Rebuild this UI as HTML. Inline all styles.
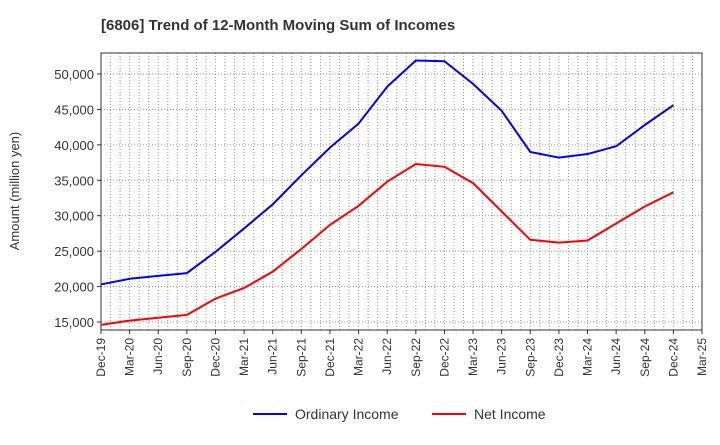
<!DOCTYPE html>
<html><head><meta charset="utf-8"><style>body{margin:0;background:#fff;font-family:"Liberation Sans",sans-serif}</style></head>
<body>
<svg id="c" width="720" height="440" xmlns="http://www.w3.org/2000/svg">
<text x="101" y="30" font-size="15" font-weight="bold" fill="#333">[6806]  Trend of 12-Month Moving Sum of Incomes</text>
<text transform="translate(19,191) rotate(-90)" text-anchor="middle" font-size="13" fill="#333">Amount (million yen)</text>
<g id="grid"></g><g id="axes"></g><g id="series"></g>
<g>
<line x1="253" y1="414" x2="287" y2="414" stroke="#0000ff" stroke-width="2"/><text x="295" y="419" font-size="14" fill="#333">Ordinary Income</text>
<line x1="432" y1="414" x2="466" y2="414" stroke="#ff0000" stroke-width="2"/><text x="474" y="419" font-size="14" fill="#333">Net Income</text>
</g>
</svg>
<script>
const categories=["Dec-19","Mar-20","Jun-20","Sep-20","Dec-20","Mar-21","Jun-21","Sep-21","Dec-21","Mar-22","Jun-22","Sep-22","Dec-22","Mar-23","Jun-23","Sep-23","Dec-23","Mar-24","Jun-24","Sep-24","Dec-24","Mar-25"];
const ordinaryIncome=[20300,21100,21500,21900,24900,28200,31600,35700,39600,43000,48200,51900,51800,48600,44800,39000,38200,38700,39800,42800,45600];
const netIncome=[14600,15200,15600,16000,18300,19800,22100,25300,28700,31400,34800,37300,36900,34600,30600,26600,26200,26500,28900,31300,33300];
const yTicks=[15000,20000,25000,30000,35000,40000,45000,50000];
const L=101,R=702,T=53,B=330,yMin=13870,yMax=52960;
const ns="http://www.w3.org/2000/svg";
const X=i=>L+(R-L)*i/(categories.length-1);
const Y=v=>B-(v-yMin)/(yMax-yMin)*(B-T);
function mk(t,a,p){const e=document.createElementNS(ns,t);for(const k in a)e.setAttribute(k,a[k]);p.appendChild(e);return e;}
const g=document.getElementById('grid'),ax=document.getElementById('axes'),s=document.getElementById('series');
for(let m=1;m<(categories.length-1)*3;m++){const x=L+(R-L)*m/((categories.length-1)*3);
const l=mk('line',{x1:x,x2:x,y1:T,y2:B,stroke:'#999','stroke-dasharray':'1,2','stroke-width':1},g);

}
yTicks.forEach(v=>{const y=Y(v);
const l=mk('line',{x1:L,x2:R,y1:y,y2:y,stroke:'#999','stroke-dasharray':'1,2'},g);


mk('line',{x1:L-4,x2:L,y1:y,y2:y,stroke:'#333'},ax);
const t=mk('text',{x:L-7,y:y+5,'text-anchor':'end','font-size':13,fill:'#333'},ax);t.textContent=v.toLocaleString('en-US');

});
categories.forEach((c,i)=>{const x=X(i);
mk('line',{x1:x,x2:x,y1:B,y2:B+4,stroke:'#333'},ax);
const t=mk('text',{transform:`translate(${x+4},${B+8}) rotate(-90)`,'text-anchor':'end','font-size':12,fill:'#333'},ax);t.textContent=c;

});
const fr=mk('rect',{x:L,y:T,width:R-L,height:B-T,fill:'none',stroke:'#333'},ax);


[[ordinaryIncome,'#0000ff','ordinary-income-line'],[netIncome,'#ff0000','net-income-line']].forEach(([d,c,n])=>{
const p=mk('polyline',{points:d.map((v,i)=>X(i)+','+Y(v)).join(' '),fill:'none',stroke:c,'stroke-width':2},s);

});
</script>
</body></html>
